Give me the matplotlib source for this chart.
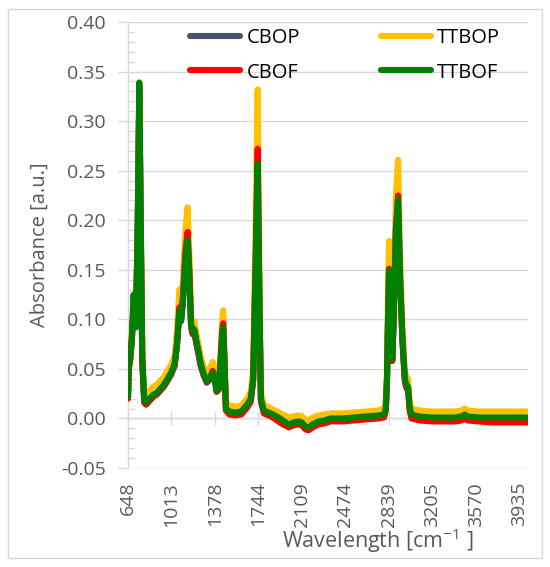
import matplotlib
matplotlib.use("Agg")
import matplotlib.pyplot as plt
from matplotlib.patches import Rectangle
from matplotlib.lines import Line2D

plt.rcParams['font.family'] = ['Open Sans', 'DejaVu Sans']
plt.rcParams['mathtext.fontset'] = 'custom'
plt.rcParams['mathtext.rm'] = 'Open Sans'
plt.rcParams['mathtext.it'] = 'Open Sans:italic'

# ---------------- data ----------------
wavenumber = [
    648, 655, 665, 680, 695, 705, 715, 730, 743, 755,
    768, 785, 800, 830, 860, 890, 920, 950, 980, 1010,
    1040, 1060, 1080, 1095, 1110, 1130, 1149, 1165, 1178, 1190,
    1205, 1220, 1240, 1260, 1285, 1310, 1335, 1360, 1378, 1393,
    1410, 1425, 1440, 1448, 1458, 1471, 1500, 1550, 1600, 1650,
    1680, 1700, 1720, 1738, 1752, 1765, 1790, 1850, 1900, 1950,
    2000, 2040, 2080, 2110, 2140, 2165, 2200, 2250, 2300, 2350,
    2450, 2550, 2650, 2750, 2800, 2815, 2825, 2835, 2842, 2850,
    2862, 2870, 2880, 2900, 2918, 2935, 2955, 2975, 2990, 3002,
    3015, 3030, 3100, 3200, 3300, 3400, 3450, 3478, 3500, 3600,
    3700, 3800, 3900, 4000,
]

cbop = [
    0.021, 0.052, 0.058, 0.078, 0.115, 0.100, 0.092, 0.195, 0.335, 0.195,
    0.058, 0.016, 0.014, 0.018, 0.022, 0.024, 0.028, 0.032, 0.038, 0.044,
    0.053, 0.074, 0.106, 0.098, 0.118, 0.160, 0.180, 0.138, 0.092, 0.085,
    0.087, 0.077, 0.065, 0.053, 0.043, 0.036, 0.039, 0.045, 0.039, 0.027,
    0.029, 0.054, 0.084, 0.090, 0.058, 0.009, 0.006, 0.005, 0.006, 0.013,
    0.019, 0.039, 0.148, 0.255, 0.118, 0.019, 0.007, 0.004, 0.001, -0.003,
    -0.007, -0.005, -0.004, -0.005, -0.009, -0.010, -0.007, -0.004, -0.003, -0.001,
    -0.001, 0.000, 0.001, 0.002, 0.003, 0.009, 0.039, 0.108, 0.147, 0.088,
    0.059, 0.059, 0.098, 0.188, 0.219, 0.138, 0.079, 0.039, 0.032, 0.031,
    0.011, 0.003, 0.001, 0.000, 0.000, 0.000, 0.001, 0.003, 0.001, 0.000,
    0.000, 0.000, 0.000, 0.000,
]

ttbop = [
    0.025, 0.050, 0.062, 0.085, 0.120, 0.105, 0.098, 0.200, 0.330, 0.200,
    0.065, 0.024, 0.024, 0.028, 0.032, 0.034, 0.038, 0.042, 0.048, 0.054,
    0.063, 0.088, 0.130, 0.112, 0.138, 0.190, 0.213, 0.160, 0.102, 0.096,
    0.098, 0.088, 0.075, 0.062, 0.052, 0.046, 0.050, 0.057, 0.050, 0.036,
    0.038, 0.065, 0.100, 0.109, 0.070, 0.016, 0.013, 0.012, 0.013, 0.020,
    0.027, 0.050, 0.190, 0.332, 0.150, 0.026, 0.014, 0.010, 0.007, 0.004,
    0.001, 0.002, 0.003, 0.002, -0.001, -0.002, 0.001, 0.003, 0.004, 0.005,
    0.005, 0.006, 0.007, 0.008, 0.010, 0.018, 0.050, 0.140, 0.179, 0.110,
    0.068, 0.068, 0.115, 0.225, 0.261, 0.165, 0.090, 0.048, 0.041, 0.040,
    0.018, 0.010, 0.008, 0.007, 0.007, 0.007, 0.008, 0.010, 0.008, 0.007,
    0.007, 0.007, 0.007, 0.007,
]

cbof = [
    0.020, 0.050, 0.058, 0.080, 0.110, 0.112, 0.100, 0.190, 0.330, 0.190,
    0.058, 0.016, 0.014, 0.018, 0.022, 0.025, 0.029, 0.033, 0.039, 0.045,
    0.054, 0.076, 0.112, 0.102, 0.124, 0.168, 0.188, 0.145, 0.095, 0.086,
    0.088, 0.078, 0.066, 0.053, 0.044, 0.037, 0.040, 0.048, 0.041, 0.027,
    0.029, 0.056, 0.088, 0.096, 0.062, 0.008, 0.004, 0.003, 0.004, 0.011,
    0.017, 0.038, 0.155, 0.272, 0.125, 0.017, 0.005, 0.002, -0.002, -0.006,
    -0.009, -0.007, -0.006, -0.007, -0.011, -0.012, -0.009, -0.006, -0.005, -0.003,
    -0.003, -0.002, -0.001, 0.000, 0.001, 0.008, 0.040, 0.112, 0.151, 0.090,
    0.058, 0.058, 0.100, 0.192, 0.225, 0.140, 0.078, 0.037, 0.030, 0.029,
    0.008, 0.000, -0.002, -0.003, -0.003, -0.003, -0.002, 0.000, -0.002, -0.003,
    -0.004, -0.004, -0.004, -0.004,
]

ttbof = [
    0.022, 0.055, 0.060, 0.080, 0.125, 0.100, 0.092, 0.200, 0.339, 0.200,
    0.060, 0.018, 0.016, 0.020, 0.024, 0.026, 0.030, 0.034, 0.040, 0.046,
    0.055, 0.075, 0.108, 0.100, 0.120, 0.160, 0.180, 0.140, 0.095, 0.088,
    0.090, 0.080, 0.068, 0.055, 0.045, 0.038, 0.040, 0.046, 0.040, 0.028,
    0.030, 0.055, 0.085, 0.092, 0.060, 0.010, 0.007, 0.006, 0.007, 0.014,
    0.020, 0.040, 0.150, 0.257, 0.120, 0.020, 0.008, 0.005, 0.002, -0.002,
    -0.006, -0.004, -0.003, -0.004, -0.008, -0.009, -0.006, -0.003, -0.002, 0.000,
    0.000, 0.001, 0.002, 0.003, 0.004, 0.010, 0.040, 0.110, 0.149, 0.090,
    0.060, 0.060, 0.100, 0.190, 0.221, 0.140, 0.080, 0.040, 0.033, 0.032,
    0.012, 0.004, 0.002, 0.001, 0.001, 0.001, 0.002, 0.004, 0.002, 0.001,
    0.001, 0.001, 0.001, 0.001,
]

series_names = ['CBOP', 'TTBOP', 'CBOF', 'TTBOF']
series_values = [cbop, ttbop, cbof, ttbof]
series_colors = ['#44546A', '#FFC000', '#FF0000', '#008000']

x_tick_values = [648, 1013, 1378, 1744, 2109, 2474, 2839, 3205, 3570, 3935]
x_tick_labels = ['648', '1013', '1378', '1744', '2109', '2474', '2839', '3205', '3570', '3935']
y_tick_values = [-0.05, 0.00, 0.05, 0.10, 0.15, 0.20, 0.25, 0.30, 0.35, 0.40]

# ---------------- figure ----------------
W, H = 550, 567
fig = plt.figure(figsize=(W / 100, H / 100), dpi=100)
fig.patch.set_facecolor('white')

GRID = '#D9D9D9'
TXT = '#595959'

# outer chart border
fig.patches.append(Rectangle((8 / W, 1 - 558 / H), 534 / W, 549 / H,
                             transform=fig.transFigure, fill=False,
                             edgecolor=GRID, linewidth=1.0))

ax = fig.add_axes([128 / W, 1 - 468 / H, 400 / W, 446 / H])

for name, vals, col in zip(series_names, series_values, series_colors):
    ax.plot(wavenumber, vals, color=col, lw=4.4, solid_joinstyle='round',
            solid_capstyle='round', label=name, zorder=3)

ax.set_xlim(648, 4010)
ax.set_ylim(-0.05, 0.40)

# y axis
ax.set_yticks(y_tick_values)
ax.set_yticklabels([f'{v:.2f}' for v in y_tick_values])
ax.set_yticks([i / 100 for i in range(-5, 41)], minor=True)
ax.tick_params(axis='y', which='major', direction='out', length=7, width=1,
               color=GRID, labelsize=14, labelcolor=TXT, pad=9)
ax.tick_params(axis='y', which='minor', direction='in', length=5, width=1,
               color=GRID)
ax.yaxis.grid(True, which='major', color=GRID, lw=1.0, zorder=0)
ax.set_axisbelow(True)

# x axis (labels at the bottom)
ax.set_xticks(x_tick_values)
ax.set_xticklabels(x_tick_labels, rotation=90)
ax.tick_params(axis='x', which='major', length=0, labelsize=14,
               labelcolor=TXT, pad=10)

for s in ['top', 'right', 'bottom']:
    ax.spines[s].set_visible(False)
ax.spines['left'].set_color(GRID)
ax.spines['left'].set_linewidth(1.0)

# horizontal axis line crosses at 0 with category tick marks
sec = ax.secondary_xaxis(0.05 / 0.45)
sec.set_xticks(x_tick_values)
sec.set_xticklabels([])
sec.tick_params(axis='x', direction='inout', length=10, width=1, color=GRID)
sec.spines['bottom'].set_color(GRID)
sec.spines['bottom'].set_linewidth(1.0)

# axis titles
fig.text(40 / W, 1 - 245 / H, 'Absorbance [a.u.]', rotation=90, ha='center',
         va='center', fontsize=14.5, color=TXT)
fig.text(378 / W, 1 - 541 / H, r'Wavelength [cm$^{\mathregular{-1}}$ ]',
         ha='center', va='center', fontsize=15.5, color=TXT)

# legend
handles = [Line2D([], [], color=c, lw=4.4, solid_capstyle='round') for c in series_colors]
order = [0, 2, 1, 3]
leg = ax.legend([handles[i] for i in order], [series_names[i] for i in order],
                ncol=2, frameon=False, loc='upper center',
                bbox_to_anchor=(345 / W, 1 - 28 / H), bbox_transform=fig.transFigure,
                fontsize=14.5, handlelength=2.5, handletextpad=0.3,
                columnspacing=4.0, labelspacing=0.72, borderpad=0, borderaxespad=0)
for t in leg.get_texts():
    t.set_color('black')

fig.savefig('out.png', dpi=100)
